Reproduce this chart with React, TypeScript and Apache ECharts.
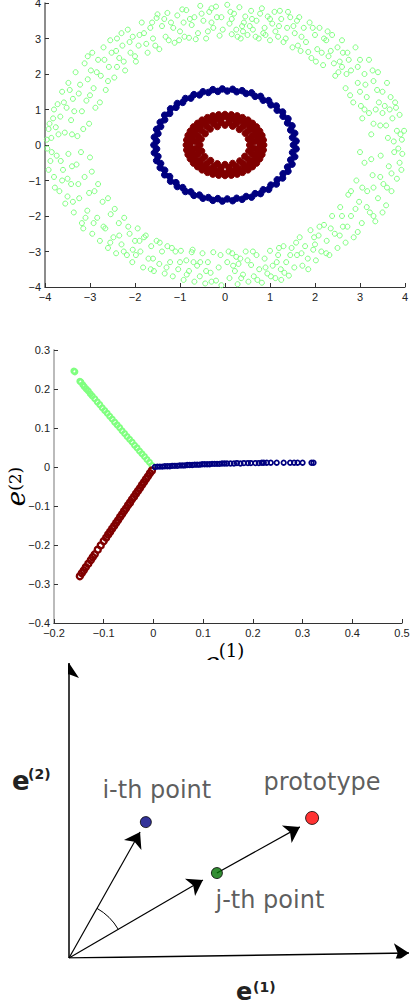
import React, { useEffect, useRef } from 'react';
import * as echarts from 'echarts';

// ---------- Panel 1: three rings (x, y) ----------
const greenRing: number[][] = [
  [0.05,3.95],[0.1,3.42],[0.15,3.12],[0.2,3.7],[0.28,3.05],[0.32,3.88],[0.38,3.35],[0.45,3.62],[0.5,3.1],[0.58,3.78],[0.62,3.25],[0.7,3.5],[0.75,3.0],[0.82,3.85],[0.88,3.3],[0.95,3.62],[1.0,2.95],[1.05,3.42],[1.1,3.75],[1.18,3.05],[1.25,3.55],[1.3,2.9],[1.38,3.3],[1.45,3.6],[1.5,2.75],[1.55,3.15],[1.6,3.5],[1.68,2.65],[1.75,3.3],[1.8,2.9],[1.88,3.45],[1.92,2.45],[2.0,3.1],[2.05,2.7],[2.1,3.3],[2.18,2.25],[2.25,2.95],[2.3,2.5],[2.38,3.1],[2.45,1.95],[2.5,2.75],[2.55,2.35],[2.6,2.95],[2.68,1.6],[2.72,2.6],[2.8,2.1],[2.85,1.2],[2.9,2.75],[2.95,1.75],[3.0,2.4],[3.05,0.75],[3.1,2.0],[3.15,1.35],[3.2,2.4],[3.25,0.3],[3.3,1.8],[3.35,1.0],[3.4,2.05],[3.45,0.55],[3.5,1.5],[3.55,1.1],[3.6,1.75],[3.62,0.2],[3.68,1.35],[3.72,0.75],[3.78,1.2],[3.82,0.4],[3.88,0.85],[3.93,0.15],[3.98,0.4],[0.4,3.2],[1.4,3.75],[2.2,3.0],[3.1,1.0],[2.7,2.0],[1.0,3.55],[0.15,3.55],[2.35,2.65],[0.6,3.55],[1.2,3.35],[1.7,3.05],[2.15,2.6],[2.6,2.2],[3.0,1.5],[3.5,0.9],[3.3,0.6],[0.25,3.25],[0.9,3.1],
  [0.12,3.75],[0.35,3.0],[0.55,3.35],[0.78,3.7],[0.85,3.15],[1.12,3.2],[1.22,3.78],[1.35,3.0],[1.62,2.8],[1.65,3.6],[1.95,3.3],[2.02,2.35],[2.28,3.2],[2.42,2.3],[2.52,2.05],[2.75,2.4],[2.78,1.4],[2.95,2.2],[3.12,1.7],[3.2,0.9],[3.28,2.1],[3.38,1.55],[3.42,1.2],[3.58,0.55],[3.66,1.0],[3.75,0.1],[3.8,1.05],[3.9,0.3],[0.42,3.45],[0.68,3.05],[1.52,3.35],[1.85,2.62],[2.62,2.6],[3.02,1.1],
  [-0.08,3.6],[-0.12,3.08],[-0.2,3.9],[-0.26,3.3],[-0.35,3.75],[-0.42,3.0],[-0.48,3.5],[-0.55,3.92],[-0.6,3.15],[-0.68,3.6],[-0.74,3.38],[-0.8,3.02],[-0.86,3.8],[-0.92,3.45],[-1.0,3.2],[-1.06,3.65],[-1.12,2.88],[-1.2,3.45],[-1.28,3.72],[-1.32,3.05],[-1.4,3.35],[-1.46,2.7],[-1.52,3.58],[-1.6,3.0],[-1.66,3.3],[-1.72,2.6],[-1.8,3.15],[-1.85,3.45],[-1.92,2.8],[-1.98,2.35],[-2.05,3.05],[-2.1,2.6],[-2.16,3.25],[-2.22,2.1],[-2.28,2.8],[-2.35,2.45],[-2.4,3.0],[-2.46,1.9],[-2.52,2.6],[-2.58,2.2],[-2.65,1.55],[-2.7,2.75],[-2.76,1.95],[-2.82,2.4],[-2.88,1.05],[-2.92,1.6],[-2.98,2.1],[-3.02,0.6],[-3.08,1.25],[-3.12,2.3],[-3.18,0.95],[-3.22,1.7],[-3.28,0.25],[-3.32,2.05],[-3.38,1.3],[-3.42,0.7],[-3.48,1.75],[-3.52,1.05],[-3.56,0.35],[-3.62,1.5],[-3.66,0.8],[-3.72,1.15],[-3.76,0.5],[-3.8,1.0],[-3.86,0.2],[-3.9,0.6],[-3.96,0.15],[-0.3,3.45],[-1.5,3.68],[-2.55,2.95],[-0.9,3.05],[-1.75,2.85],[-2.4,2.2],[-3.0,1.4],[-3.4,0.3],
  [-0.05,3.25],[-0.18,3.6],[-0.38,3.2],[-0.52,3.7],[-0.65,2.98],[-0.78,3.55],[-0.95,3.82],[-1.02,2.95],[-1.15,3.3],[-1.35,3.55],[-1.55,2.8],[-1.62,3.45],[-1.9,3.1],[-2.0,2.5],[-2.12,2.9],[-2.3,3.15],[-2.42,2.65],[-2.6,1.8],[-2.68,2.4],[-2.85,2.05],[-2.95,2.6],[-3.05,1.85],[-3.15,0.45],[-3.25,1.45],[-3.35,0.95],[-3.45,1.55],[-3.58,1.2],[-3.7,0.3],[-3.82,0.75],[-3.92,0.45],[-2.78,1.2],[-3.05,2.5],[-1.25,2.95],[-0.3,3.85],[-2.25,2.35],
  [-3.95,-0.1],[-3.88,-0.45],[-3.8,-0.9],[-3.74,-0.3],[-3.68,-1.3],[-3.6,-0.7],[-3.55,-1.65],[-3.48,-0.25],[-3.42,-1.1],[-3.36,-1.9],[-3.3,-0.55],[-3.24,-1.5],[-3.18,-2.2],[-3.12,-0.9],[-3.06,-1.85],[-3.0,-0.35],[-2.95,-2.5],[-2.9,-1.3],[-2.84,-2.05],[-2.78,-2.7],[-2.72,-1.6],[-2.66,-2.35],[-2.6,-2.9],[-2.54,-1.95],[-2.48,-2.6],[-2.42,-3.05],[-2.36,-2.2],[-2.3,-2.8],[-2.24,-2.05],[-2.18,-3.1],[-2.12,-2.5],[-2.06,-3.3],[-2.0,-2.7],[-1.94,-2.35],[-1.88,-3.0],[-1.82,-3.45],[-1.76,-2.55],[-1.7,-3.2],[-1.64,-2.85],[-1.58,-3.55],[-1.52,-2.7],[-1.46,-3.35],[-1.4,-3.0],[-1.34,-3.62],[-1.28,-2.85],[-1.22,-3.3],[-1.16,-3.7],[-1.1,-3.0],[-1.04,-3.5],[-0.98,-2.98],[-0.92,-3.8],[-0.86,-3.25],[-0.8,-3.55],[-0.74,-3.02],[-0.68,-3.85],[-0.62,-3.4],[-0.56,-3.7],[-0.5,-3.05],[-0.44,-3.9],[-0.38,-3.3],[-0.32,-3.6],[-0.26,-3.02],[-0.2,-3.82],[-0.14,-3.45],[-0.08,-3.95],[-3.15,-2.35],[-3.5,-0.95],[-2.6,-1.5],[-0.7,-3.3],[-1.9,-2.7],
  [-3.92,-0.7],[-3.85,-0.2],[-3.78,-1.2],[-3.65,-0.45],[-3.62,-1.0],[-3.5,-1.45],[-3.4,-0.6],[-3.38,-1.6],[-3.26,-1.1],[-3.2,-0.2],[-3.1,-2.05],[-3.02,-1.35],[-2.96,-0.75],[-2.92,-2.2],[-2.82,-1.1],[-2.7,-2.3],[-2.55,-2.75],[-2.45,-1.8],[-2.25,-3.0],[-2.15,-2.3],[-1.98,-3.1],[-1.8,-2.6],[-1.6,-3.2],[-1.45,-2.75],[-1.3,-3.45],[-1.18,-2.9],[-1.0,-3.3],[-0.85,-3.65],[-0.72,-2.95],[-0.55,-3.3],[-0.42,-3.55],[-0.3,-3.85],[-0.1,-3.1],[-2.35,-2.55],[-1.65,-3.5],[-2.05,-2.95],
  [0.05,-3.3],[0.1,-3.75],[0.16,-3.05],[0.22,-3.55],[0.28,-3.92],[0.34,-3.2],[0.4,-3.65],[0.46,-3.0],[0.52,-3.85],[0.58,-3.38],[0.64,-3.7],[0.7,-3.1],[0.76,-3.5],[0.82,-3.88],[0.88,-3.2],[0.94,-3.62],[1.0,-2.98],[1.06,-3.4],[1.12,-3.75],[1.18,-3.1],[1.24,-3.5],[1.3,-2.85],[1.36,-3.3],[1.42,-3.68],[1.48,-2.9],[1.54,-3.45],[1.6,-3.1],[1.66,-2.6],[1.72,-3.4],[1.78,-2.85],[1.84,-3.2],[1.9,-2.4],[1.96,-2.95],[2.02,-3.25],[2.08,-2.55],[2.14,-3.0],[2.2,-2.25],[2.26,-2.7],[2.32,-3.1],[2.38,-2.0],[2.44,-2.5],[2.5,-2.9],[2.56,-1.75],[2.62,-2.3],[2.68,-2.75],[2.74,-1.4],[2.8,-2.0],[2.86,-2.6],[2.92,-1.0],[2.98,-1.6],[3.04,-2.2],[3.1,-0.5],[3.16,-1.3],[3.22,-1.9],[3.28,-0.85],[3.34,-2.15],[3.4,-1.5],[3.46,-0.3],[3.52,-1.1],[3.58,-1.7],[3.64,-0.6],[3.7,-1.3],[3.76,-0.2],[3.82,-0.95],[3.88,-0.5],[3.94,-0.25],[0.3,-3.35],[1.2,-2.9],[2.0,-2.8],[3.0,-0.2],[3.3,-1.2],
  [0.08,-3.0],[0.18,-3.4],[0.36,-3.75],[0.5,-3.25],[0.62,-3.0],[0.72,-3.8],[0.9,-3.45],[1.02,-3.7],[1.15,-3.3],[1.32,-3.6],[1.45,-3.1],[1.58,-2.75],[1.7,-3.05],[1.85,-3.5],[1.98,-2.6],[2.1,-2.3],[2.25,-3.05],[2.35,-2.35],[2.55,-2.55],[2.6,-2.0],[2.72,-2.3],[2.9,-1.8],[2.95,-2.45],[3.05,-1.2],[3.15,-1.75],[3.25,-0.4],[3.3,-2.0],[3.45,-0.9],[3.5,-1.9],[3.6,-1.2],[3.7,-0.8],[3.85,-0.1],[3.92,-0.7],[2.8,-1.3],[1.25,-3.8],[0.25,-3.15]
];

const blueRing: number[][] = [
  [1.52,0],[1.58,0.11],[1.5,0.21],[1.55,0.33],[1.46,0.42],[1.49,0.54],[1.39,0.62],[1.4,0.74],[1.29,0.81],[1.28,0.93],[1.16,0.98],[1.14,1.1],[1.02,1.13],[0.97,1.25],[0.85,1.26],[0.79,1.37],[0.67,1.37],[0.59,1.47],[0.47,1.45],[0.38,1.53],[0.26,1.5],[0.17,1.57],[0.05,1.52],
  [-0.06,1.58],[-0.16,1.51],[-0.27,1.56],[-0.37,1.48],[-0.49,1.5],[-0.57,1.41],[-0.69,1.42],[-0.76,1.32],[-0.88,1.31],[-0.94,1.2],[-1.06,1.17],[-1.09,1.06],[-1.21,1.02],[-1.23,0.89],[-1.34,0.84],[-1.34,0.71],[-1.44,0.64],[-1.43,0.52],[-1.52,0.44],[-1.49,0.32],[-1.57,0.22],[-1.52,0.11],
  [-1.58,0],[-1.52,-0.11],[-1.57,-0.22],[-1.49,-0.32],[-1.52,-0.44],[-1.43,-0.52],[-1.44,-0.64],[-1.34,-0.71],[-1.34,-0.84],[-1.23,-0.89],[-1.21,-1.02],[-1.09,-1.06],[-1.06,-1.17],[-0.94,-1.2],[-0.88,-1.31],[-0.76,-1.32],[-0.69,-1.42],[-0.57,-1.41],[-0.49,-1.5],[-0.37,-1.48],[-0.27,-1.56],[-0.16,-1.51],[-0.06,-1.58],
  [0.05,-1.52],[0.17,-1.57],[0.26,-1.5],[0.38,-1.53],[0.47,-1.45],[0.59,-1.47],[0.67,-1.37],[0.79,-1.37],[0.85,-1.26],[0.97,-1.25],[1.02,-1.13],[1.14,-1.1],[1.16,-0.98],[1.28,-0.93],[1.29,-0.81],[1.4,-0.74],[1.39,-0.62],[1.49,-0.54],[1.46,-0.42],[1.55,-0.33],[1.5,-0.21],[1.58,-0.11]
];

const redRing: number[][] = [
  [0.55,0],[0.52,0.17],[0.45,0.33],[0.32,0.44],[0.17,0.53],[0,0.56],[-0.17,0.52],[-0.33,0.45],[-0.44,0.32],[-0.53,0.17],[-0.56,0],[-0.52,-0.17],[-0.45,-0.33],[-0.32,-0.44],[-0.17,-0.53],[0,-0.55],[0.17,-0.52],[0.33,-0.45],[0.44,-0.32],[0.53,-0.17],
  [0.64,0.09],[0.6,0.25],[0.52,0.4],[0.4,0.52],[0.25,0.6],[0.09,0.64],[-0.09,0.64],[-0.25,0.6],[-0.4,0.52],[-0.52,0.4],[-0.6,0.25],[-0.64,0.09],[-0.64,-0.09],[-0.6,-0.25],[-0.52,-0.4],[-0.4,-0.52],[-0.25,-0.6],[-0.09,-0.64],[0.09,-0.64],[0.25,-0.6],[0.4,-0.52],[0.52,-0.4],[0.6,-0.25],[0.64,-0.09],
  [0.76,0.07],[0.73,0.2],[0.69,0.32],[0.62,0.44],[0.54,0.54],[0.44,0.62],[0.32,0.69],[0.2,0.73],[0.07,0.76],[-0.07,0.76],[-0.2,0.73],[-0.32,0.69],[-0.44,0.62],[-0.54,0.54],[-0.62,0.44],[-0.69,0.32],[-0.73,0.2],[-0.76,0.07],[-0.76,-0.07],[-0.73,-0.2],[-0.69,-0.32],[-0.62,-0.44],[-0.54,-0.54],[-0.44,-0.62],[-0.32,-0.69],[-0.2,-0.73],[-0.07,-0.76],[0.07,-0.76],[0.2,-0.73],[0.32,-0.69],[0.44,-0.62],[0.54,-0.54],[0.62,-0.44],[0.69,-0.32],[0.73,-0.2],[0.76,-0.07],
  [0.86,0],[0.85,0.14],[0.82,0.27],[0.77,0.39],[0.7,0.51],[0.61,0.61],[0.51,0.7],[0.39,0.77],[0.27,0.82],[0.14,0.85],[0,0.86],[-0.14,0.85],[-0.27,0.82],[-0.39,0.77],[-0.51,0.7],[-0.61,0.61],[-0.7,0.51],[-0.77,0.39],[-0.82,0.27],[-0.85,0.14],[-0.86,0],[-0.85,-0.14],[-0.82,-0.27],[-0.77,-0.39],[-0.7,-0.51],[-0.61,-0.61],[-0.51,-0.7],[-0.39,-0.77],[-0.27,-0.82],[-0.14,-0.85],[0,-0.86],[0.14,-0.85],[0.27,-0.82],[0.39,-0.77],[0.51,-0.7],[0.61,-0.61],[0.7,-0.51],[0.77,-0.39],[0.82,-0.27],[0.85,-0.14]
];

// ---------- Panel 2: spectral embedding (e1, e2) ----------
const embedGreen: number[][] = [
  [-0.003,0.004],[-0.008,0.012],[-0.013,0.019],[-0.018,0.027],[-0.023,0.034],[-0.028,0.041],[-0.033,0.049],[-0.038,0.056],[-0.043,0.064],[-0.048,0.071],[-0.053,0.078],[-0.058,0.086],[-0.063,0.093],[-0.068,0.101],[-0.073,0.108],[-0.078,0.115],[-0.083,0.123],[-0.088,0.13],[-0.093,0.138],[-0.098,0.145],[-0.103,0.152],[-0.108,0.16],[-0.113,0.167],[-0.118,0.175],[-0.123,0.182],[-0.127,0.188],[-0.131,0.195],[-0.135,0.2],[-0.139,0.206],[-0.142,0.211],[-0.146,0.218],[-0.148,0.22],[-0.158,0.244],[-0.16,0.246]
];
const embedRed: number[][] = [
  [-0.003,-0.009],[-0.007,-0.016],[-0.011,-0.024],[-0.015,-0.031],[-0.019,-0.039],[-0.023,-0.046],[-0.027,-0.054],[-0.031,-0.061],[-0.035,-0.068],[-0.039,-0.076],[-0.043,-0.083],[-0.047,-0.091],[-0.051,-0.098],[-0.055,-0.106],[-0.059,-0.113],[-0.063,-0.121],[-0.067,-0.128],[-0.071,-0.136],[-0.075,-0.143],[-0.079,-0.151],[-0.083,-0.158],[-0.087,-0.166],[-0.091,-0.173],[-0.095,-0.181],[-0.1,-0.19],[-0.106,-0.201],[-0.112,-0.212],[-0.118,-0.224],[-0.122,-0.231],[-0.126,-0.239],[-0.131,-0.248],[-0.136,-0.257],[-0.14,-0.265],[-0.144,-0.272],[-0.148,-0.28]
];
const embedBlue: number[][] = [
  [0.003,0.0],[0.008,0.001],[0.013,0.001],[0.018,0.001],[0.023,0.002],[0.028,0.002],[0.033,0.002],[0.038,0.003],[0.043,0.003],[0.048,0.003],[0.053,0.004],[0.058,0.004],[0.063,0.004],[0.068,0.005],[0.073,0.005],[0.078,0.005],[0.083,0.006],[0.088,0.006],[0.093,0.006],[0.098,0.007],[0.103,0.007],[0.108,0.007],[0.113,0.007],[0.118,0.008],[0.123,0.008],[0.128,0.008],[0.133,0.008],[0.138,0.009],[0.143,0.009],[0.148,0.009],[0.155,0.009],[0.162,0.009],[0.168,0.01],[0.175,0.009],[0.182,0.01],[0.19,0.01],[0.196,0.01],[0.205,0.01],[0.212,0.01],[0.218,0.011],[0.222,0.011],[0.228,0.011],[0.236,0.011],[0.248,0.011],[0.262,0.011],[0.275,0.011],[0.283,0.011],[0.29,0.011],[0.3,0.011],[0.318,0.011],[0.322,0.011]
];

// ---------- Panel 3: schematic diagram (abstract units) ----------
const diagramOrigin = [0, 0];
const iPoint = [2.26, 4.56];
const jPoint = [4.35, 2.85];
const prototypePoint = [7.15, 4.7];
const iArrowTip = [2.09, 4.23];
const jArrowTip = [3.94, 2.62];
const protoArrowTip = [6.79, 4.4];
const e2AxisTip = [0, 9.9];
const e1AxisTip = [10, 0.17];
const pointLabels = ['i-th point', 'j-th point', 'prototype'];

const MINUS = '\u2212';
const fmtTick = (v: number) => (v < 0 ? MINUS + String(Math.abs(v)) : String(v));
const SERIF = 'DejaVu Serif';
const SANS = 'DejaVu Sans';

function valueAxis(gridIndex: number, min: number, max: number, interval: number, lineColor: string, lineWidth: number) {
  return {
    type: 'value',
    gridIndex,
    min,
    max,
    interval,
    axisLine: { show: true, onZero: false, lineStyle: { color: lineColor, width: lineWidth } },
    axisTick: { show: true, inside: true, length: 4, lineStyle: { color: '#333', width: 1 } },
    axisLabel: {
      show: true,
      fontSize: 11,
      fontFamily: 'Liberation Sans, Arial, sans-serif',
      color: '#222',
      margin: 4,
      showMinLabel: true,
      showMaxLabel: true,
      formatter: fmtTick,
    },
    splitLine: { show: false },
  };
}

function openCircles(color: string, bw: number) {
  return { color: 'rgba(0,0,0,0)', borderColor: color, borderWidth: bw, opacity: 1 };
}
function solidCircles(color: string, bw: number) {
  return { color, borderColor: color, borderWidth: bw, opacity: 1 };
}

export default function App() {
  const ref = useRef<HTMLDivElement>(null);

  useEffect(() => {
    document.body.style.margin = '0';
    const chart = echarts.init(ref.current as HTMLDivElement, null, { renderer: 'svg' });

    const embedYAxis: any = {
      ...valueAxis(1, -0.4, 0.3, 0.1, '#bbb', 2),
      name: '{e|e}{s|(2)}',
      nameLocation: 'middle',
      nameRotate: 90,
      nameGap: 25,
      nameMoveOverlap: false,
      nameTextStyle: {
        rich: {
          e: { fontFamily: SERIF, fontStyle: 'italic', fontSize: 26, color: '#000' },
          s: { fontFamily: SERIF, fontSize: 17, color: '#000', padding: [0, 0, 3, 0] },
        },
      },
    };

    const option: any = {
      animation: false,
      backgroundColor: '#fff',
      grid: [
        { left: 45, top: 3, width: 360, height: 284, outerBoundsMode: 'none', containLabel: false },
        { left: 54, top: 350, width: 348, height: 273, outerBoundsMode: 'none', containLabel: false },
        { left: 69, top: 660, width: 340, height: 298, outerBoundsMode: 'none', containLabel: false },
      ],
      xAxis: [
        valueAxis(0, -4, 4, 1, '#333', 1),
        valueAxis(1, -0.2, 0.5, 0.1, '#333', 1),
        { type: 'value', gridIndex: 2, min: 0, max: 10, show: false },
      ],
      yAxis: [
        valueAxis(0, -4, 4, 1, '#666', 1.5),
        embedYAxis,
        { type: 'value', gridIndex: 2, min: 0, max: 10, show: false },
      ],
      series: [
        { type: 'scatter', xAxisIndex: 0, yAxisIndex: 0, data: greenRing, symbol: 'circle', symbolSize: 5, itemStyle: openCircles('#80ff80', 1) },
        { type: 'scatter', xAxisIndex: 0, yAxisIndex: 0, data: blueRing, symbol: 'circle', symbolSize: 6.5, itemStyle: solidCircles('#000080', 1) },
        { type: 'scatter', xAxisIndex: 0, yAxisIndex: 0, data: redRing, symbol: 'circle', symbolSize: 6.5, itemStyle: solidCircles('#800000', 1) },
        { type: 'scatter', xAxisIndex: 1, yAxisIndex: 1, data: embedGreen, symbol: 'circle', symbolSize: 5, itemStyle: openCircles('#80ff80', 2) },
        { type: 'scatter', xAxisIndex: 1, yAxisIndex: 1, data: embedRed, symbol: 'circle', symbolSize: 6, itemStyle: openCircles('#800000', 2.4) },
        { type: 'scatter', xAxisIndex: 1, yAxisIndex: 1, data: embedBlue, symbol: 'circle', symbolSize: 4.5, itemStyle: openCircles('#000080', 1.8) },
        {
          type: 'lines',
          coordinateSystem: 'cartesian2d',
          xAxisIndex: 2,
          yAxisIndex: 2,
          symbol: ['none', 'arrow'],
          symbolSize: 15,
          lineStyle: { color: '#000', width: 1.2, opacity: 1, curveness: 0 },
          data: [
            { coords: [diagramOrigin, e2AxisTip], lineStyle: { width: 1.5 } },
            { coords: [diagramOrigin, e1AxisTip], lineStyle: { width: 1.5 } },
            { coords: [diagramOrigin, iArrowTip] },
            { coords: [diagramOrigin, jArrowTip] },
            { coords: [jPoint, protoArrowTip] },
          ],
          z: 2,
        },
        {
          type: 'scatter',
          xAxisIndex: 2,
          yAxisIndex: 2,
          symbol: 'circle',
          z: 3,
          label: {
            show: true,
            position: 'inside',
            fontFamily: SANS,
            fontSize: 24,
            color: '#333',
            align: 'center',
            verticalAlign: 'middle',
          },
          data: [
            { value: iPoint, symbolSize: 11, itemStyle: { color: '#000080', borderColor: '#000', borderWidth: 1 }, label: { formatter: pointLabels[0], offset: [11, -32] } },
            { value: jPoint, symbolSize: 11, itemStyle: { color: '#007000', borderColor: '#000', borderWidth: 1 }, label: { formatter: pointLabels[1], offset: [53, 27] } },
            { value: prototypePoint, symbolSize: 13, itemStyle: { color: '#ff0000', borderColor: '#000', borderWidth: 1 }, label: { formatter: pointLabels[2], offset: [10, -36] } },
          ],
        },
      ],
    };
    chart.setOption(option);

    const o = chart.convertToPixel({ gridIndex: 2 }, diagramOrigin) as number[];
    const pi = chart.convertToPixel({ gridIndex: 2 }, iArrowTip) as number[];
    const pj = chart.convertToPixel({ gridIndex: 2 }, jArrowTip) as number[];
    const angI = Math.atan2(pi[1] - o[1], pi[0] - o[0]);
    const angJ = Math.atan2(pj[1] - o[1], pj[0] - o[0]);

    chart.setOption({
      graphic: [
        { type: 'arc', shape: { cx: o[0], cy: o[1], r: 57, startAngle: angI, endAngle: angJ, clockwise: true }, style: { stroke: '#000', lineWidth: 1, fill: 'none' }, z: 5 },
        // middle panel x title (cut by the panel edge in the reference)
        { type: 'text', x: 212, y: 662, style: { text: 'e', fontFamily: SERIF, fontStyle: 'italic', fontSize: 27, fill: '#000', align: 'center', verticalAlign: 'middle' } },
        { type: 'text', x: 231.5, y: 650, style: { text: '(1)', fontFamily: SERIF, fontSize: 18, fill: '#000', align: 'center', verticalAlign: 'middle' } },
        { type: 'rect', shape: { x: 195, y: 660, width: 40, height: 22 }, style: { fill: '#fff' }, z: 10 },
        // diagram axis names
        { type: 'text', x: 12, y: 781, style: { text: 'e', fontFamily: SANS, fontWeight: 'bold', fontSize: 26, fill: '#222', align: 'left', verticalAlign: 'middle' } },
        { type: 'text', x: 28, y: 774, style: { text: '(2)', fontFamily: SANS, fontWeight: 'bold', fontSize: 14, fill: '#222', align: 'left', verticalAlign: 'middle' } },
        { type: 'text', x: 236, y: 992, style: { text: 'e', fontFamily: SANS, fontWeight: 'bold', fontSize: 24, fill: '#222', align: 'left', verticalAlign: 'middle' } },
        { type: 'text', x: 253, y: 987, style: { text: '(1)', fontFamily: SANS, fontWeight: 'bold', fontSize: 14, fill: '#222', align: 'left', verticalAlign: 'middle' } },
      ],
    });

    return () => chart.dispose();
  }, []);

  return <div ref={ref} style={{ width: 410, height: 1006 }} />;
}
